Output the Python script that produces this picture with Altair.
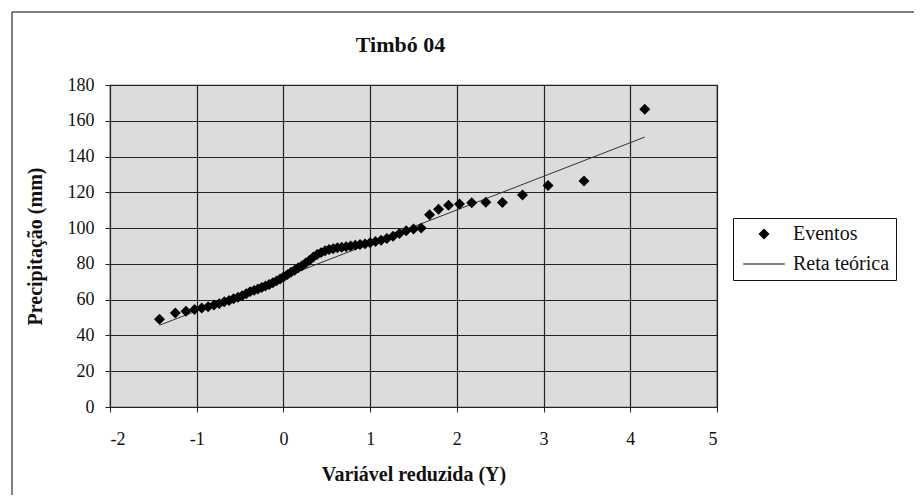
import altair as alt
import pandas as pd

# Reduced variable (Gumbel) of each event
reduced_y = [-1.429, -1.247, -1.124, -1.025, -0.942, -0.868, -0.801, -0.740,
             -0.682, -0.627, -0.575, -0.524, -0.476, -0.429, -0.383, -0.338,
             -0.294, -0.250, -0.207, -0.164, -0.122, -0.080, -0.038, 0.004,
             0.046, 0.087, 0.129, 0.172, 0.214, 0.257, 0.301, 0.345,
             0.389, 0.434, 0.480, 0.526, 0.574, 0.622, 0.672, 0.723,
             0.775, 0.829, 0.884, 0.941, 1.000, 1.062, 1.127, 1.193,
             1.264, 1.338, 1.416, 1.500, 1.589, 1.685, 1.789, 1.904,
             2.030, 2.172, 2.334, 2.525, 2.757, 3.052, 3.466, 4.167]
# Precipitation (mm) of each event
precip = [49.0, 52.5, 53.5, 54.5, 55.3, 56.0, 57.0, 57.8,
          58.8, 59.5, 60.5, 61.3, 62.2, 63.3, 64.5, 65.2,
          66.0, 66.8, 67.6, 68.5, 69.5, 70.5, 71.5, 72.8,
          74.0, 75.3, 76.5, 77.8, 79.0, 80.5, 82.0, 83.8,
          85.2, 86.3, 87.3, 88.0, 88.5, 89.0, 89.3, 89.6,
          90.0, 90.4, 90.8, 91.2, 91.8, 92.5, 93.2, 94.2,
          95.5, 97.0, 98.5, 99.5, 100.0, 107.5, 110.5, 112.8,
          113.5, 114.2, 114.4, 114.3, 118.5, 123.8, 126.3, 166.5]
# Theoretical line end points
line_x = [-1.429, 4.167]
line_y = [45.7, 150.9]

x_ticks = [-2, -1, 0, 1, 2, 3, 4, 5]
y_ticks = [0, 20, 40, 60, 80, 100, 120, 140, 160, 180]
series = ["Eventos", "Reta teórica"]
legend_shapes = ["diamond", "M-3.8,-0.1H3.8V0.1H-3.8Z"]

FONT = "Liberation Serif"

pts = pd.DataFrame({"Y": reduced_y, "P": precip, "serie": series[0]})
ln = pd.DataFrame({"Y": line_x, "P": line_y})

xscale = alt.Scale(domain=[-2, 5], nice=False, zero=False)
yscale = alt.Scale(domain=[0, 180], nice=False)

xaxis = alt.Axis(values=x_ticks, title="Variável reduzida (Y)", labelExpr="datum.value",
                 grid=True, gridColor="#222", gridWidth=1.2, tickColor="#222", tickSize=5,
                 domainColor="#222", labelFont=FONT, labelFontSize=18, labelColor="#111",
                 labelPadding=18, labelOverlap=False, titleFont=FONT, titleFontSize=20,
                 titleFontWeight="bold", titleColor="#111", titlePadding=16)
yaxis = alt.Axis(values=y_ticks, title="Precipitação (mm)", grid=True, gridColor="#222",
                 gridWidth=1.2, tickColor="#222", tickSize=5, domainColor="#222",
                 labelFont=FONT, labelFontSize=18, labelColor="#111", labelPadding=11,
                 labelOverlap=False, labelFlush=False,
                 titleFont=FONT, titleFontSize=20, titleFontWeight="bold", titleColor="#111",
                 titlePadding=22)

line = alt.Chart(ln).mark_line(color="#333", strokeWidth=1).encode(
    x=alt.X("Y:Q", scale=xscale, axis=xaxis),
    y=alt.Y("P:Q", scale=yscale, axis=yaxis),
)

points = alt.Chart(pts).mark_point(shape="diamond", filled=True, color="black",
                                   size=120, opacity=1).encode(
    x=alt.X("Y:Q", scale=xscale, axis=xaxis),
    y=alt.Y("P:Q", scale=yscale, axis=yaxis),
    shape=alt.Shape("serie:N", scale=alt.Scale(domain=series, range=legend_shapes),
                    legend=alt.Legend(title=None, orient="none", legendX=623, legendY=133,
                                      strokeColor="#111", padding=6, rowPadding=10,
                                      symbolSize=120, symbolOffset=15, labelOffset=19,
                                      symbolFillColor="black", symbolStrokeColor="black",
                                      symbolStrokeWidth=0.5, symbolOpacity=1,
                                      labelFont=FONT, labelFontSize=20,
                                      labelColor="#111", fillColor="white")),
)

dummy = pd.DataFrame({"a": [0]})
border_v = alt.Chart(dummy).mark_rule(color="#555", strokeWidth=1.5).encode(
    x=alt.value(-98), y=alt.value(-73), y2=alt.value(600))
border_h = alt.Chart(dummy).mark_rule(color="#555", strokeWidth=1.5).encode(
    x=alt.value(-98), x2=alt.value(900), y=alt.value(-73))

chart = alt.layer(border_v, border_h, line, points).properties(
    width=607, height=322,
    background="white",
    title=alt.Title("Timbó 04", font=FONT, fontSize=22, fontWeight="bold", color="#111",
                    anchor="middle", frame="group", dx=-13, offset=0, dy=63,
                    baseline="alphabetic"),
    padding={"left": 102, "top": 77, "right": 197, "bottom": 88},
    autosize=alt.AutoSizeParams(type="none"),
).configure_view(fill="#dcdcdc", stroke="#222", strokeWidth=1.2)

chart.save("out.html", embed_options={"renderer": "svg", "actions": False})
